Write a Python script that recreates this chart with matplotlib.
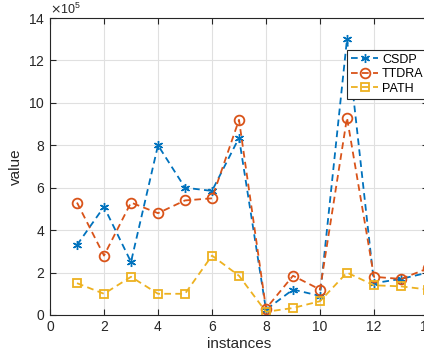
import matplotlib
matplotlib.use('Agg')
import matplotlib.pyplot as plt
from matplotlib.ticker import ScalarFormatter

instances = [1, 2, 3, 4, 5, 6, 7, 8, 9, 10, 11, 12, 13, 14]
csdp = [3.3, 5.1, 2.5, 8.0, 6.0, 5.85, 8.35, 0.25, 1.2, 0.9, 13.0, 1.5, 1.7, 2.0]
ttdra = [5.3, 2.8, 5.3, 4.8, 5.4, 5.5, 9.2, 0.3, 1.85, 1.2, 9.3, 1.8, 1.7, 2.2]
path = [1.5, 1.0, 1.8, 1.0, 1.0, 2.8, 1.85, 0.15, 0.33, 0.65, 2.0, 1.4, 1.35, 1.2]
scale = 1e5

plt.rcParams['font.family'] = ['Liberation Sans', 'DejaVu Sans']
plt.rcParams['font.size'] = 10

fig = plt.figure(figsize=(4.24, 3.56), dpi=100)
ax = fig.add_axes([50 / 424, 41 / 356, 378 / 424, 297 / 356])

dash = (3.7, 2.4)
ax.plot(instances, [v * scale for v in csdp], '--', dashes=dash, color='#0072BD',
        marker=(6, 2, 0), markersize=6.5, linewidth=1.3, label='CSDP')
ax.plot(instances, [v * scale for v in ttdra], '--', dashes=dash, color='#D95319',
        marker='o', markersize=7, markerfacecolor='none', markeredgewidth=1.3,
        linewidth=1.3, label='TTDRA')
ax.plot(instances, [v * scale for v in path], '--', dashes=dash, color='#EDB120',
        marker='s', markersize=6, markerfacecolor='none', markeredgewidth=1.3,
        linewidth=1.3, label='PATH')

ax.set_xlim(0, 14)
ax.set_ylim(0, 14e5)
ax.set_xticks(range(0, 15, 2))
ax.set_yticks([i * 2e5 for i in range(8)])
fmt = ScalarFormatter(useMathText=True)
fmt.set_powerlimits((5, 5))
ax.yaxis.set_major_formatter(fmt)
ax.yaxis.get_offset_text().set_fontsize(9)
ax.yaxis.get_offset_text().set_color('#262626')
ax.grid(True, color='#e0e0e0', linewidth=0.8)
ax.set_axisbelow(True)
ax.tick_params(direction='in', top=True, right=True, colors='#262626',
               labelsize=10, length=4)
for s in ax.spines.values():
    s.set_color('#262626')
    s.set_linewidth(0.8)
ax.set_xlabel('instances', fontsize=11, color='#262626', labelpad=2)
ax.set_ylabel('value', fontsize=11, color='#262626', labelpad=4)

leg = ax.legend(loc='upper left', bbox_to_anchor=(0.786, 0.892),
                fancybox=False, edgecolor='#262626', framealpha=1,
                borderaxespad=0, handlelength=2.2, labelspacing=0.2,
                borderpad=0.3, handletextpad=0.3, fontsize=9)
leg.get_frame().set_linewidth(0.8)

fig.savefig('out.png', dpi=100)
